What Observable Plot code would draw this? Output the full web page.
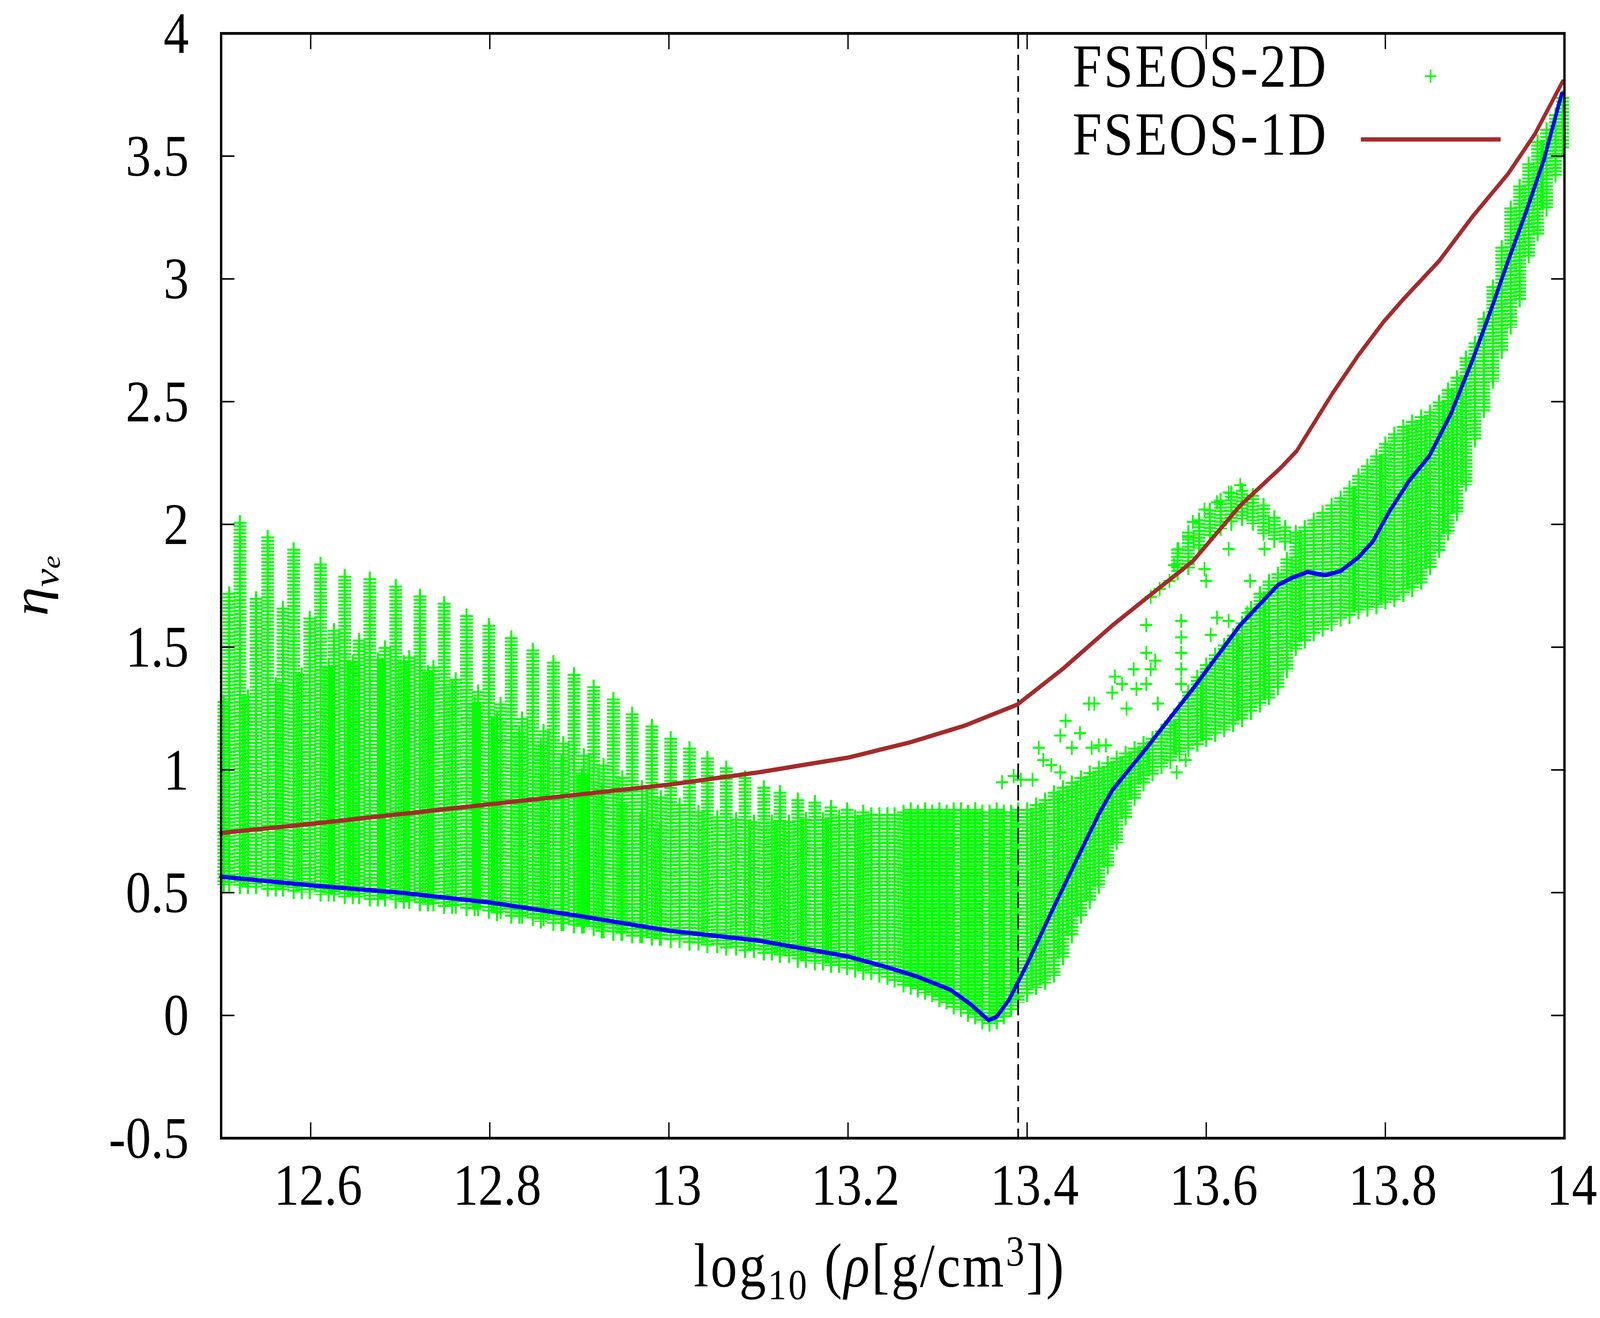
<!DOCTYPE html>
<html><head><meta charset="utf-8">
<script src="https://cdn.jsdelivr.net/npm/d3@7"></script>
<script src="https://cdn.jsdelivr.net/npm/@observablehq/plot@0.6"></script>
<style>
html,body{margin:0;padding:0;background:#fff;overflow:hidden;}
#chart{position:fixed;left:0;top:0;width:100vw;height:100vh;}
#chart > svg{display:block;width:100vw !important;height:100vh !important;max-width:none !important;}
</style>
</head><body><div id="chart"></div>
<script>
// ---- axes ----
const xTicks = [12.6, 12.8, 13, 13.2, 13.4, 13.6, 13.8, 14];
const yTicks = [-0.5, 0, 0.5, 1, 1.5, 2, 2.5, 3, 3.5, 4];
const markerX = 13.39;

// ---- FSEOS-1D (brown line) ----
const redX = [12.5,12.6,12.7,12.8,12.9,13.0,13.1,13.2,13.269,13.33,13.389,13.44,13.496,13.546,13.585,13.638,13.683,13.701,13.741,13.77,13.798,13.82,13.86,13.898,13.937,13.967,13.998];
const redY = [0.743,0.78,0.82,0.86,0.90,0.94,0.99,1.05,1.112,1.18,1.266,1.412,1.591,1.737,1.85,2.077,2.23,2.299,2.534,2.69,2.825,2.917,3.073,3.257,3.428,3.59,3.804];

// ---- blue line ----
const blueX = [12.5,12.6,12.7,12.8,12.9,13.0,13.1,13.2,13.24,13.276,13.314,13.337,13.357,13.366,13.38,13.4,13.427,13.454,13.48,13.495,13.533,13.585,13.638,13.68,13.696,13.713,13.733,13.75,13.77,13.786,13.804,13.827,13.849,13.873,13.898,13.918,13.937,13.957,13.977,13.997];
const blueY = [0.565,0.53,0.50,0.46,0.405,0.345,0.305,0.24,0.2,0.16,0.105,0.045,-0.02,-0.005,0.065,0.21,0.42,0.625,0.82,0.917,1.088,1.33,1.59,1.753,1.783,1.806,1.793,1.81,1.866,1.93,2.05,2.18,2.278,2.449,2.676,2.874,3.073,3.272,3.485,3.755];

// ---- FSEOS-2D scatter: columns of crosses (x, lowest, highest) ----
const combX  = [12.521,12.552,12.581,12.611,12.638,12.666,12.695,12.722,12.749,12.774,12.799,12.824,12.848,12.871,12.894,12.916,12.938,12.959,12.981,13.002,13.023,13.043,13.064,13.085,13.106,13.124,13.144,13.163,13.181,13.199,13.217,13.235,13.252];
const combHi = [2.01,1.95,1.90,1.84,1.79,1.78,1.75,1.71,1.68,1.63,1.59,1.54,1.49,1.44,1.39,1.34,1.29,1.23,1.18,1.13,1.09,1.05,1.01,0.97,0.93,0.91,0.88,0.87,0.85,0.84,0.83,0.82,0.82];
const combLo = [0.52,0.51,0.50,0.49,0.48,0.47,0.46,0.45,0.44,0.43,0.42,0.40,0.39,0.37,0.36,0.35,0.33,0.32,0.31,0.30,0.29,0.28,0.27,0.26,0.25,0.24,0.22,0.21,0.20,0.19,0.17,0.16,0.14];

const midX  = [12.503,12.509,12.539,12.569,12.599,12.626,12.654,12.683,12.71,12.737,12.762,12.787,12.812,12.836,12.86,12.882,12.905,12.927,12.948,12.97,12.991,13.012,13.033,13.054,13.075,13.095,13.115,13.134,13.153,13.172,13.19,13.208,13.226,13.244];
const midHi = [1.28,1.72,1.70,1.66,1.62,1.57,1.53,1.50,1.46,1.42,1.37,1.32,1.27,1.21,1.16,1.11,1.06,1.02,0.97,0.93,0.89,0.86,0.83,0.81,0.80,0.79,0.79,0.79,0.80,0.80,0.81,0.81,0.82,0.82];
const midLo = [0.53,0.53,0.52,0.51,0.50,0.49,0.48,0.47,0.46,0.45,0.44,0.43,0.42,0.40,0.39,0.37,0.36,0.34,0.33,0.32,0.31,0.30,0.29,0.28,0.27,0.26,0.25,0.24,0.22,0.21,0.20,0.18,0.17,0.15];

const lowX  = [12.530,12.561,12.590,12.620,12.647,12.675,12.704,12.731,12.758,12.783,12.808,12.833,12.857,12.880,12.903,12.925,12.947,12.968,12.990];
const lowHi = [1.30,1.35,1.39,1.42,1.44,1.45,1.44,1.40,1.34,1.27,1.21,1.15,1.10,1.04,0.98,0.92,0.86,0.80,0.76];
const lowLo = [0.52,0.51,0.50,0.49,0.48,0.47,0.46,0.45,0.44,0.43,0.41,0.40,0.38,0.37,0.36,0.34,0.33,0.32,0.31];

const coreX  = [13.262,13.27,13.278,13.286,13.294,13.302,13.31,13.318,13.326,13.334,13.342,13.35,13.358,13.366,13.374,13.382,13.39];
const coreHi = [0.83,0.84,0.83,0.84,0.83,0.84,0.83,0.84,0.84,0.83,0.84,0.83,0.83,0.84,0.83,0.83,0.84];
const coreLo = [0.12,0.11,0.10,0.09,0.08,0.06,0.05,0.03,0.02,0.00,-0.01,-0.03,-0.04,-0.03,-0.01,0.02,0.05];

const riseX  = [13.40,13.41,13.42,13.43,13.44,13.45,13.46,13.47,13.48,13.49,13.50,13.51,13.52,13.53,13.54,13.55,13.56,13.57,13.58,13.59,13.60,13.61,13.62,13.63,13.64,13.65,13.66,13.67,13.68,13.69];
const riseLo = [0.08,0.11,0.13,0.16,0.23,0.32,0.40,0.46,0.52,0.60,0.70,0.80,0.88,0.94,0.98,1.01,1.03,1.06,1.08,1.10,1.12,1.14,1.16,1.18,1.20,1.23,1.26,1.29,1.33,1.40];
const riseHi = [0.84,0.86,0.88,0.91,0.93,0.95,0.97,0.99,1.01,1.03,1.05,1.07,1.09,1.11,1.13,1.16,1.20,1.25,1.32,1.38,1.43,1.47,1.51,1.55,1.60,1.66,1.72,1.77,1.80,1.86];

const arcX  = [13.568,13.58,13.592,13.604,13.616,13.628,13.64,13.652,13.664,13.676,13.688];
const arcLo = [1.80,1.82,1.90,1.95,1.98,2.00,2.02,2.00,1.96,1.93,1.92];
const arcHi = [1.90,1.97,2.02,2.06,2.10,2.13,2.14,2.12,2.08,2.03,1.99];

const topX  = [13.70,13.71,13.72,13.73,13.74,13.75,13.76,13.77,13.78,13.79,13.80,13.81,13.82,13.83,13.84,13.85,13.86,13.87,13.88,13.89,13.90,13.91,13.92,13.93,13.94,13.95,13.96,13.97,13.98,13.99,13.998];
const topHi = [1.97,1.99,2.02,2.05,2.08,2.11,2.15,2.20,2.24,2.28,2.33,2.37,2.40,2.42,2.44,2.46,2.50,2.55,2.60,2.68,2.74,2.84,2.97,3.13,3.29,3.38,3.47,3.56,3.61,3.67,3.74];
const topLo = [1.49,1.52,1.55,1.57,1.59,1.61,1.62,1.64,1.65,1.66,1.68,1.69,1.71,1.73,1.76,1.82,1.89,1.96,2.04,2.16,2.34,2.46,2.58,2.70,2.80,2.91,3.09,3.18,3.28,3.42,3.53];

// isolated crosses [x, y]
const loosePts = [
 [13.372,0.95],[13.385,0.975],[13.393,0.96],[13.406,0.96],[13.413,1.09],[13.418,1.04],[13.427,1.02],
 [13.437,0.99],[13.437,1.14],[13.443,1.2],[13.45,1.09],[13.459,1.15],[13.469,1.27],[13.472,1.09],
 [13.475,1.27],[13.48,1.1],[13.488,1.1],[13.495,1.315],[13.498,1.38],[13.506,1.35],[13.511,1.25],
 [13.519,1.41],[13.522,1.33],[13.533,1.477],[13.533,1.35],[13.533,1.59],[13.538,1.41],[13.538,1.705],
 [13.543,1.445],[13.546,1.27],[13.548,1.737],[13.559,1.77],[13.564,1.834],[13.569,1.899],[13.572,1.607],
 [13.572,1.54],[13.572,1.477],[13.572,1.41],[13.572,1.35],[13.58,1.948],[13.585,2.01],[13.598,2.06],
 [13.598,1.818],[13.6,1.77],[13.612,2.09],[13.612,1.62],[13.625,2.13],[13.625,1.9],[13.625,1.607],
 [13.638,2.16],[13.646,1.64],[13.649,1.77],[13.665,1.9],[13.567,0.99],[13.577,1.04],[13.62,1.42],[13.605,1.55]
];

// ---- build tables ----
const GREEN = "#00ff00", RED = "#a52a2a", BLUE = "#0000ff";
const FONT = "Liberation Serif";
const cols = (xs, lo, hi) => xs.map((x, i) => ({x, lo: lo[i], hi: hi[i]}));
const columns = [
  ...cols(midX, midLo, midHi), ...cols(lowX, lowLo, lowHi), ...cols(combX, combLo, combHi),
  ...cols(coreX, coreLo, coreHi), ...cols(riseX, riseLo, riseHi), ...cols(arcX, arcLo, arcHi),
  ...cols(topX, topLo, topHi)
];
const loose = loosePts.map(([x, y]) => ({x, y}));
const red = redX.map((x, i) => ({x, y: redY[i]}));
const blue = blueX.map((x, i) => ({x, y: blueY[i]}));

const plusSymbol = {draw(ctx, size) {
  const r = Math.sqrt(size / Math.PI);
  ctx.moveTo(-r, 0); ctx.lineTo(r, 0); ctx.moveTo(0, -r); ctx.lineTo(0, r);
}};

const chart = Plot.plot({
  width: 4750, height: 3375,
  marginLeft: 656, marginRight: 106, marginTop: 85, marginBottom: 461,
  x: {domain: [12.5, 14]},
  y: {domain: [-0.5, 4]},
  style: {fontFamily: FONT, background: "#fff", color: "#000"},
  marks: [
    // horizontal arms of stacked crosses
    Plot.ruleX(columns, {x: "x", y1: "hi", y2: "lo", stroke: GREEN, strokeWidth: 38, strokeDasharray: "5,4"}),
    // vertical arms
    Plot.ruleX(columns, {x: "x", y1: "hi", y2: "lo", stroke: GREEN, strokeWidth: 6, insetTop: -17, insetBottom: -17}),
    Plot.dot(loose, {x: "x", y: "y", symbol: plusSymbol, r: 18, stroke: GREEN, strokeWidth: 5, fill: "none"}),
    Plot.ruleX([markerX], {stroke: "#000", strokeWidth: 5, strokeDasharray: "40,15"}),
    Plot.line(red, {x: "x", y: "y", stroke: RED, strokeWidth: 11}),
    Plot.line(blue, {x: "x", y: "y", stroke: BLUE, strokeWidth: 11}),
    Plot.axisX({anchor: "bottom", ticks: xTicks, tickSize: -40, strokeWidth: 4, fill: "none", label: null}),
    Plot.axisX({anchor: "top", ticks: xTicks, tickSize: -40, strokeWidth: 4, fill: "none", label: null}),
    Plot.axisY({anchor: "left", ticks: yTicks, tickSize: -40, strokeWidth: 4, fill: "none", label: null}),
    Plot.axisY({anchor: "right", ticks: yTicks, tickSize: -40, strokeWidth: 4, fill: "none", label: null}),
    Plot.axisX({anchor: "bottom", ticks: xTicks, tickSize: 0, tickPadding: 64, fontSize: 150, tickFormat: d => String(d), label: null, dx: 22}),
    Plot.axisY({anchor: "left", ticks: yTicks, tickSize: 0, tickPadding: 96, fontSize: 150, tickFormat: d => String(d), label: null, dy: 2}),
    Plot.frame({stroke: "#000", strokeWidth: 7})
  ]
});
chart.setAttribute("viewBox", "0 0 4750 3375");
chart.setAttribute("preserveAspectRatio", "none");
document.getElementById("chart").appendChild(chart);

// ---- axis titles & key ----
const svg = d3.select(chart);
const xl = svg.append("text").attr("x", 2612).attr("y", 3294).attr("text-anchor", "middle")
  .attr("font-family", FONT).attr("font-size", 158).attr("letter-spacing", 6).attr("fill", "#000");
xl.append("tspan").text("log");
xl.append("tspan").attr("font-size", 110).attr("dy", 33).text("10");
xl.append("tspan").attr("dy", -33).text(" (");
xl.append("tspan").attr("font-style", "italic").text("ρ");
xl.append("tspan").text("[g/cm");
xl.append("tspan").attr("font-size", 110).attr("dy", -53).text("3");
xl.append("tspan").attr("dy", 53).text("])");

const yl = svg.append("text").attr("transform", "translate(140,1500) rotate(-90)").attr("text-anchor", "middle")
  .attr("font-family", FONT).attr("font-size", 150).attr("font-style", "italic").attr("fill", "#000");
yl.append("tspan").text("η");
yl.append("tspan").attr("font-size", 105).attr("dy", 33).text("ν");
yl.append("tspan").attr("font-size", 76).attr("dy", 5).text("e");

const key = svg.append("g").attr("font-family", FONT).attr("font-size", 156).attr("letter-spacing", 6).attr("fill", "#000");
key.append("text").attr("x", 3943).attr("y", 222).attr("text-anchor", "end").text("FSEOS-2D");
key.append("text").attr("x", 3943).attr("y", 396).attr("text-anchor", "end").text("FSEOS-1D");
key.append("path").attr("d", "M4230,195H4264M4247,178V212").attr("stroke", GREEN).attr("stroke-width", 4.5).attr("fill", "none");
key.append("line").attr("x1", 4040).attr("x2", 4455).attr("y1", 357).attr("y2", 357).attr("stroke", RED).attr("stroke-width", 11);
</script>
</body></html>
